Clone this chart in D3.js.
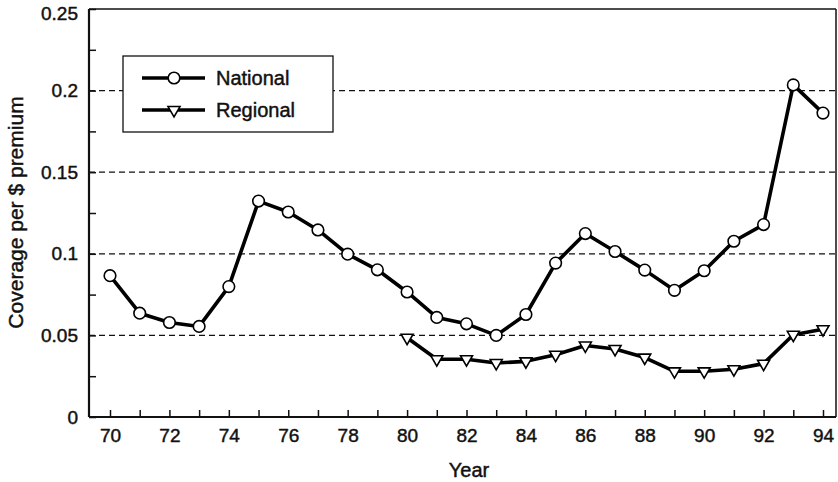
<!DOCTYPE html>
<html>
<head>
<meta charset="utf-8">
<script src="https://cdn.jsdelivr.net/npm/d3@7"></script>
<style>
  html, body { margin: 0; padding: 0; background: #fff; }
  svg { display: block; font-family: "Liberation Sans", Arial, Helvetica, sans-serif; }
  text { fill: #111; stroke: #111; stroke-width: 0.45px; }
</style>
</head>
<body>
<svg id="chart" width="838" height="482"></svg>
<script>
const nationalYears = [70,71,72,73,74,75,76,77,78,79,80,81,82,83,84,85,86,87,88,89,90,91,92,93,94];
const nationalValues = [0.0866,0.0636,0.0579,0.0555,0.0799,0.1323,0.1256,0.1146,0.0998,0.0902,0.0766,0.0610,0.0571,0.0500,0.0628,0.0943,0.1124,0.1014,0.0900,0.0776,0.0896,0.1077,0.1179,0.2035,0.1862];
const regionalYears = [80,81,82,83,84,85,86,87,88,89,90,91,92,93,94];
const regionalValues = [0.0486,0.0354,0.0354,0.0331,0.0341,0.0382,0.0438,0.0417,0.0364,0.0280,0.0280,0.0293,0.0327,0.0504,0.0538];
const xTickLabels = [70,72,74,76,78,80,82,84,86,88,90,92,94];
const yTickLabels = [0,0.05,0.1,0.15,0.2,0.25];
const gridValues = [0.05,0.1,0.15,0.2];
const seriesNames = ["National","Regional"];

const svg = d3.select("#chart");
const x = d3.scaleLinear().domain([70,94]).range([110,823]);
const y = d3.scaleLinear().domain([0,0.25]).range([417,9]);
const pLeft = 89, pRight = 836, pTop = y(0.25), pBottom = y(0);

// gridlines
svg.append("g").selectAll("line").data(gridValues).join("line")
  .attr("x1", pLeft).attr("x2", pRight)
  .attr("y1", d => y(d)).attr("y2", d => y(d))
  .attr("stroke", "#111").attr("stroke-width", 1.2)
  .attr("stroke-dasharray", "6,4");

// frame: top and right thin
svg.append("line").attr("x1", pLeft).attr("x2", pRight).attr("y1", pTop).attr("y2", pTop)
  .attr("stroke", "#111").attr("stroke-width", 1.5);
svg.append("line").attr("x1", pRight).attr("x2", pRight).attr("y1", pTop).attr("y2", pBottom)
  .attr("stroke", "#111").attr("stroke-width", 1.5);

// axes
const xAxis = d3.axisBottom(x).tickValues(d3.range(70,95,1)).tickSizeInner(-7).tickSizeOuter(0)
  .tickFormat(d => xTickLabels.includes(d) ? d : "");
const gx = svg.append("g").attr("transform", `translate(0,${pBottom})`).call(xAxis);
gx.select(".domain").attr("d", `M${pLeft},0H${pRight}`).attr("stroke", "#111").attr("stroke-width", 2.2);
gx.selectAll(".tick line").attr("stroke", "#111").attr("stroke-width", 1.5);
gx.selectAll(".tick text").attr("y", 12).attr("font-size", 19).attr("fill", "#111")
  .attr("font-family", "Liberation Sans, Arial, sans-serif");

const yAxis = d3.axisLeft(y).tickValues(d3.range(0,0.2501,0.025)).tickSizeInner(-7).tickSizeOuter(0)
  .tickFormat(d => {
    const r = Math.round(d*1000)/1000;
    return yTickLabels.some(v => Math.abs(v - r) < 1e-6) ? String(r) : "";
  });
const gy = svg.append("g").attr("transform", `translate(${pLeft},0)`).call(yAxis);
gy.select(".domain").attr("d", `M0,${pTop}V${pBottom}`).attr("stroke", "#111").attr("stroke-width", 2.2);
gy.selectAll(".tick line").attr("stroke", "#111").attr("stroke-width", 1.5);
gy.selectAll(".tick text").attr("x", -11).attr("font-size", 19).attr("fill", "#111")
  .attr("font-family", "Liberation Sans, Arial, sans-serif")
  .attr("y", d => d > 0.24 ? 4 : 0);

// axis titles
svg.append("text").attr("x", 469).attr("y", 477)
  .attr("text-anchor", "middle").attr("font-size", 20).text("Year");
svg.append("text").attr("transform", `translate(23,212.5) rotate(-90)`)
  .attr("text-anchor", "middle").attr("font-size", 21).text("Coverage per $ premium");

// lines
const line = d3.line().x(d => x(d[0])).y(d => y(d[1]));
const nat = nationalYears.map((yr,i) => [yr, nationalValues[i]]);
const reg = regionalYears.map((yr,i) => [yr, regionalValues[i]]);

svg.append("path").datum(nat).attr("d", line).attr("fill", "none")
  .attr("stroke", "#000").attr("stroke-width", 3.6).attr("stroke-linejoin", "round");
svg.append("path").datum(reg).attr("d", line).attr("fill", "none")
  .attr("stroke", "#000").attr("stroke-width", 3.6).attr("stroke-linejoin", "round");

const tri = d3.symbol().type(d3.symbolTriangle).size(62);

svg.append("g").selectAll("circle").data(nat).join("circle")
  .attr("cx", d => x(d[0])).attr("cy", d => y(d[1])).attr("r", 5.8)
  .attr("fill", "#fff").attr("stroke", "#000").attr("stroke-width", 1.6);
svg.append("g").selectAll("path").data(reg).join("path")
  .attr("d", tri).attr("transform", d => `translate(${x(d[0])},${y(d[1])}) rotate(180)`)
  .attr("fill", "#fff").attr("stroke", "#000").attr("stroke-width", 1.6);

// legend
const lg = svg.append("g");
lg.append("rect").attr("x", 123).attr("y", 56).attr("width", 210).attr("height", 76)
  .attr("fill", "#fff").attr("stroke", "#111").attr("stroke-width", 1.3);
const legRows = [{name: seriesNames[0], yy: 78, type: "circle"}, {name: seriesNames[1], yy: 110, type: "tri"}];
legRows.forEach(r => {
  lg.append("line").attr("x1", 142).attr("x2", 205).attr("y1", r.yy).attr("y2", r.yy)
    .attr("stroke", "#000").attr("stroke-width", 3.6);
  if (r.type === "circle") {
    lg.append("circle").attr("cx", 174).attr("cy", r.yy).attr("r", 5.8)
      .attr("fill", "#fff").attr("stroke", "#000").attr("stroke-width", 1.6);
  } else {
    lg.append("path").attr("d", tri).attr("transform", `translate(174,${r.yy}) rotate(180)`)
      .attr("fill", "#fff").attr("stroke", "#000").attr("stroke-width", 1.6);
  }
  lg.append("text").attr("x", 216).attr("y", r.yy).attr("dy", "0.36em")
    .attr("font-size", 20).text(r.name);
});
</script>
</body>
</html>
